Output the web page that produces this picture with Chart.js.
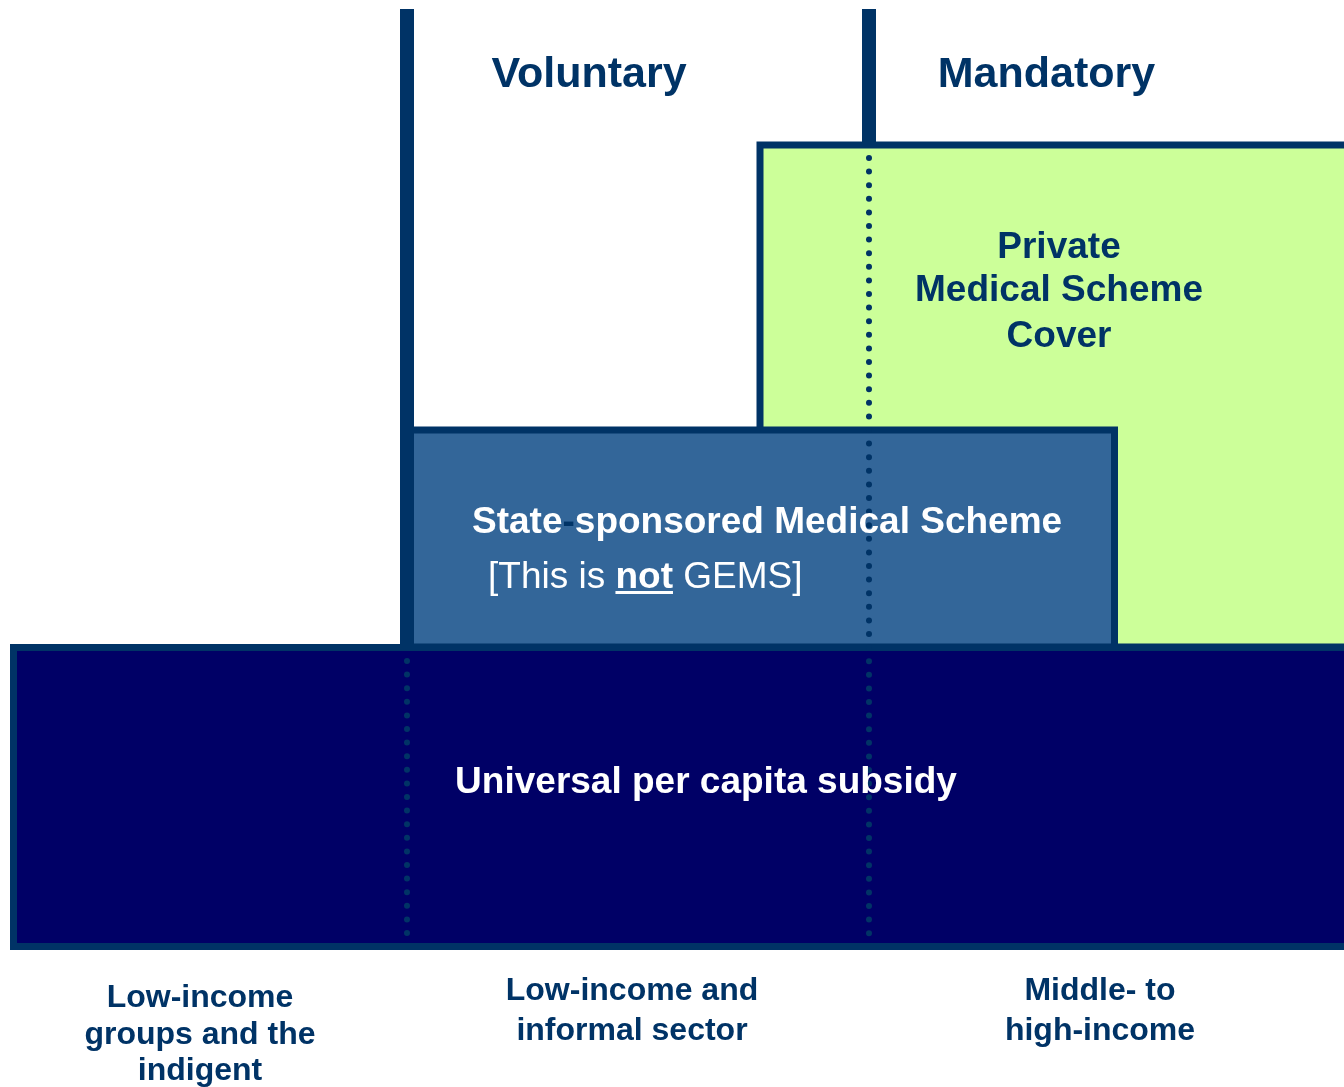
<!DOCTYPE html>
<html>
<head>
<meta charset="utf-8">
<title>Medical scheme coverage tiers</title>
<script src="https://cdn.jsdelivr.net/npm/chart.js@4.4.1/dist/chart.umd.min.js"></script>
<style>
    html, body { margin: 0; padding: 0; background: #ffffff; }
    canvas { display: block; }
</style>
</head>
<body>
<canvas id="tierChart" width="1344" height="1087"></canvas>
<script>
// diagram units: x runs across the income spectrum (left to right), y runs top to bottom
const tiers = ["Private Medical Scheme Cover", "State-sponsored Medical Scheme", "Universal per capita subsidy"];
const tierLeft = [760, 407, 13.5];
const tierRight = [1350, 1114.5, 1350];
const tierTop = [145, 430, 647.5];
const tierBottom = [647, 647, 946.5];

const columns = ["Voluntary", "Mandatory"];
const dividerX = [407, 869];
const dividerTop = [9, 9];
const dividerBottom = [647, 142];
const dottedTop = [661, 158];
const dottedBottom = [940, 940];

const incomeGroups = [
    ["Low-income", "groups and the", "indigent"],
    ["Low-income and", "informal sector"],
    ["Middle- to", "high-income"]
];
const incomeGroupX = [200, 632, 1100];

const DARK = "#003366";
const FONT = "'Liberation Sans', Arial, Helvetica, sans-serif";
const tierFill = ["#CCFF99", "#336699", "#000066"];
const tierOrder = [6, 5, 3];

// closed outline; the first edge is repeated so the start corner gets a proper join
function rectPoints(i) {
    return [
        { x: tierLeft[i], y: tierTop[i] },
        { x: tierRight[i], y: tierTop[i] },
        { x: tierRight[i], y: tierBottom[i] },
        { x: tierLeft[i], y: tierBottom[i] },
        { x: tierLeft[i], y: tierTop[i] },
        { x: tierRight[i], y: tierTop[i] }
    ];
}

const datasets = [];

tiers.forEach((name, i) => {
    datasets.push({
        label: name,
        data: rectPoints(i),
        fill: "shape",
        backgroundColor: tierFill[i],
        borderColor: DARK,
        borderWidth: 7,
        borderJoinStyle: "miter",
        pointRadius: 0,
        tension: 0,
        order: tierOrder[i]
    });
});

dividerX.forEach((xv, i) => {
    datasets.push({
        label: "divider " + (i + 1),
        data: [{ x: xv, y: dividerTop[i] }, { x: xv, y: dividerBottom[i] }],
        fill: false,
        borderColor: DARK,
        borderWidth: 14,
        borderCapStyle: "butt",
        pointRadius: 0,
        order: 4
    });
    datasets.push({
        label: "dotted " + (i + 1),
        data: [{ x: xv, y: dottedTop[i] }, { x: xv, y: dottedBottom[i] }],
        fill: false,
        borderColor: DARK,
        borderWidth: 6,
        borderCapStyle: "round",
        borderDash: [0, 13.6],
        pointRadius: 0,
        order: 2
    });
});

// text anchors in diagram units
const columnLabelX = [589, 1046.5];
const columnLabelY = 87;
const privateLabel = { x: 1059, y: [258, 301, 347], lines: ["Private", "Medical Scheme", "Cover"] };
const stateLabel = { x: 472, y: 533, noteX: 488, noteY: 588 };
const universalLabel = { x: 706, y: 793 };
const groupBaselines = [[1007, 1043.5, 1080], [1000, 1039.5], [1000, 1039.5]];

const labelPlugin = {
    id: "diagramLabels",
    afterDatasetsDraw(chart) {
        const { ctx, scales: { x, y } } = chart;
        ctx.save();
        ctx.textBaseline = "alphabetic";

        // column headings
        ctx.fillStyle = DARK;
        ctx.textAlign = "center";
        ctx.font = "bold 43px " + FONT;
        columns.forEach((c, i) => {
            ctx.fillText(c, x.getPixelForValue(columnLabelX[i]), y.getPixelForValue(columnLabelY));
        });

        // private tier
        ctx.font = "bold 37px " + FONT;
        privateLabel.lines.forEach((line, i) => {
            ctx.fillText(line, x.getPixelForValue(privateLabel.x), y.getPixelForValue(privateLabel.y[i]));
        });

        // state-sponsored tier
        ctx.textAlign = "left";
        ctx.font = "bold 37px " + FONT;
        let px = x.getPixelForValue(stateLabel.x);
        const py = y.getPixelForValue(stateLabel.y);
        const parts = [["State", "#ffffff"], ["-", DARK], ["sponsored Medical Scheme", "#ffffff"]];
        parts.forEach(([t, col]) => {
            ctx.fillStyle = col;
            ctx.fillText(t, px, py);
            px += ctx.measureText(t).width;
        });

        ctx.fillStyle = "#ffffff";
        let nx = x.getPixelForValue(stateLabel.noteX);
        const ny = y.getPixelForValue(stateLabel.noteY);
        ctx.font = "37px " + FONT;
        ctx.fillText("[This is ", nx, ny);
        nx += ctx.measureText("[This is ").width;
        ctx.font = "bold 37px " + FONT;
        ctx.fillText("not", nx, ny);
        const notW = ctx.measureText("not").width;
        ctx.fillRect(nx, ny + 3, notW, 3);
        nx += notW;
        ctx.font = "37px " + FONT;
        ctx.fillText(" GEMS]", nx, ny);

        // universal tier
        ctx.textAlign = "center";
        ctx.font = "bold 37px " + FONT;
        ctx.fillText(tiers[2], x.getPixelForValue(universalLabel.x), y.getPixelForValue(universalLabel.y));

        // income groups along the bottom
        ctx.fillStyle = DARK;
        ctx.font = "bold 32px " + FONT;
        incomeGroups.forEach((lines, i) => {
            lines.forEach((line, j) => {
                ctx.fillText(line, x.getPixelForValue(incomeGroupX[i]), y.getPixelForValue(groupBaselines[i][j]));
            });
        });

        ctx.restore();
    }
};

new Chart(document.getElementById("tierChart"), {
    type: "line",
    data: { datasets: datasets },
    options: {
        responsive: false,
        animation: false,
        devicePixelRatio: 1,
        layout: { padding: 0 },
        scales: {
            x: { type: "linear", min: 0, max: 1344, display: false },
            y: { type: "linear", min: 0, max: 1087, reverse: true, display: false }
        },
        plugins: {
            legend: { display: false },
            tooltip: { enabled: false }
        }
    },
    plugins: [labelPlugin]
});
</script>
</body>
</html>
